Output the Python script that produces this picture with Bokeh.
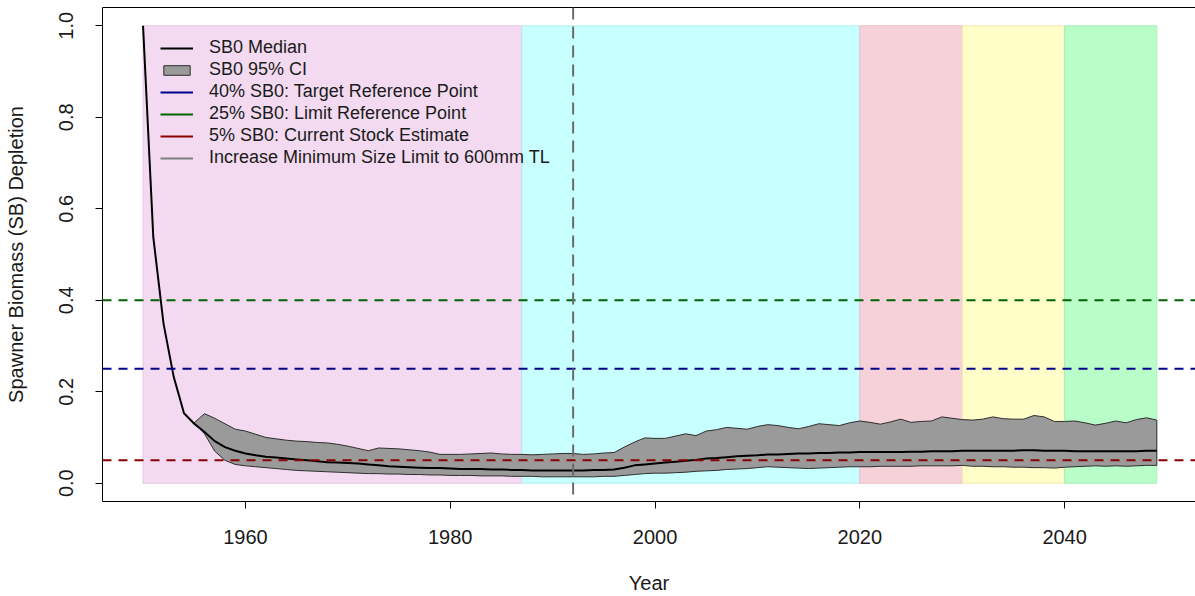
from bokeh.plotting import figure
from bokeh.models import (Range1d, Span, Legend, LegendItem, LinearAxis, FixedTicker,
                          CustomJSTickFormatter)
from bokeh.embed import file_html
from bokeh.resources import INLINE

# ---------------- data ----------------
years = list(range(1950, 2050))
median = [1.000, 0.538, 0.349, 0.232, 0.153, 0.130, 0.112, 0.092, 0.079, 0.071,
          0.065, 0.061, 0.058, 0.056, 0.054, 0.052, 0.050, 0.048, 0.046, 0.045,
          0.044, 0.043, 0.041, 0.039, 0.037, 0.036, 0.035, 0.034, 0.033, 0.033,
          0.032, 0.031, 0.031, 0.031, 0.030, 0.030, 0.029, 0.029, 0.028, 0.028,
          0.028, 0.028, 0.028, 0.028, 0.029, 0.029, 0.030, 0.034, 0.039, 0.041,
          0.043, 0.045, 0.047, 0.049, 0.051, 0.054, 0.055, 0.057, 0.059, 0.060,
          0.061, 0.063, 0.063, 0.064, 0.065, 0.065, 0.066, 0.066, 0.067, 0.067,
          0.068, 0.068, 0.068, 0.068, 0.068, 0.069, 0.069, 0.070, 0.070, 0.070,
          0.071, 0.071, 0.071, 0.071, 0.071, 0.071, 0.072, 0.072, 0.071, 0.071,
          0.071, 0.070, 0.070, 0.070, 0.070, 0.070, 0.070, 0.070, 0.071, 0.071]

ci_years = list(range(1955, 2050))
ci_upper = [0.132, 0.152, 0.142, 0.130, 0.118, 0.114, 0.107, 0.100, 0.097, 0.094,
            0.092, 0.091, 0.089, 0.088, 0.085, 0.081, 0.076, 0.071, 0.077, 0.076,
            0.075, 0.073, 0.071, 0.068, 0.063, 0.063, 0.063, 0.064, 0.065, 0.066,
            0.064, 0.063, 0.063, 0.062, 0.063, 0.064, 0.065, 0.065, 0.063, 0.064,
            0.066, 0.067, 0.079, 0.090, 0.099, 0.098, 0.098, 0.103, 0.108, 0.104,
            0.114, 0.117, 0.122, 0.120, 0.118, 0.124, 0.128, 0.126, 0.122, 0.119,
            0.124, 0.130, 0.128, 0.126, 0.132, 0.136, 0.133, 0.129, 0.134, 0.140,
            0.133, 0.135, 0.136, 0.145, 0.142, 0.139, 0.138, 0.140, 0.145, 0.141,
            0.140, 0.140, 0.148, 0.145, 0.135, 0.135, 0.136, 0.132, 0.127, 0.131,
            0.136, 0.132, 0.139, 0.143, 0.138]
ci_lower = [0.132, 0.108, 0.070, 0.050, 0.041, 0.038, 0.036, 0.034, 0.032, 0.030,
            0.028, 0.027, 0.026, 0.025, 0.024, 0.023, 0.022, 0.021, 0.021, 0.020,
            0.020, 0.019, 0.019, 0.018, 0.018, 0.017, 0.017, 0.017, 0.016, 0.016,
            0.016, 0.015, 0.015, 0.015, 0.014, 0.014, 0.014, 0.014, 0.014, 0.014,
            0.015, 0.015, 0.017, 0.019, 0.021, 0.022, 0.022, 0.023, 0.024, 0.026,
            0.027, 0.028, 0.030, 0.031, 0.032, 0.034, 0.036, 0.035, 0.034, 0.033,
            0.032, 0.033, 0.034, 0.035, 0.036, 0.036, 0.036, 0.037, 0.037, 0.037,
            0.037, 0.038, 0.038, 0.038, 0.038, 0.039, 0.037, 0.037, 0.036, 0.036,
            0.035, 0.035, 0.034, 0.034, 0.033, 0.035, 0.036, 0.037, 0.038, 0.037,
            0.038, 0.037, 0.038, 0.039, 0.039]

period_start = [1950, 1987, 2020, 2030, 2040]
period_end = [1987, 2020, 2030, 2040, 2049]
period_colors = ["#F3DAF1", "#C8FFFF", "#F7D1DA", "#FFFDC8", "#B9FDC8"]
period_borders = ["#E8C6E6", "#B4EEF0", "#EABFC9", "#F5E6B0", "#A9EEBA"]

regulation_year = 1992
ref_levels = [0.40, 0.25, 0.05]
ref_colors = ["#006400", "#00008B", "#8B0000"]

legend_labels = ["SB0 Median", "SB0 95% CI", "40% SB0: Target Reference Point",
                 "25% SB0: Limit Reference Point", "5% SB0: Current Stock Estimate",
                 "Increase Minimum Size Limit to 600mm TL"]
legend_line_colors = ["#00008B", "#006400", "#8B0000", "#7F7F7F"]

x_ticks = [1960, 1980, 2000, 2020, 2040]
y_ticks = [0.0, 0.2, 0.4, 0.6, 0.8, 1.0]

FONT = "Liberation Sans"
NAN = float("nan")

# ---------------- figure ----------------
p = figure(width=1195, height=596, output_backend="svg", toolbar_location=None,
           x_range=Range1d(1946.04, 2052.78), y_range=Range1d(-0.04, 1.04),
           min_border_left=102, min_border_right=0, min_border_top=7,
           min_border_bottom=95, x_axis_location=None, y_axis_location=None)
p.outline_line_color = None
p.xgrid.visible = False
p.ygrid.visible = False
p.background_fill_color = "white"

# shaded periods
p.quad(left=period_start, right=period_end, bottom=0, top=1,
       fill_color=period_colors, line_color=period_borders, line_width=1)

# CI polygon
px = ci_years + ci_years[::-1]
py = ci_upper + ci_lower[::-1]
ci_r = p.patch(px, py, fill_color="#9A9A9A", line_color="#2E2E2E", line_width=1)

# median
med_r = p.line(years, median, line_color="black", line_width=2)

# reference lines
for lev, col in zip(ref_levels, ref_colors):
    p.add_layout(Span(location=lev, dimension="width", line_color=col,
                      line_width=2, line_dash="9 7"))
p.add_layout(Span(location=regulation_year, dimension="height", line_color="#6B6B6B",
                  line_width=2, line_dash="12 7"))

# legend-only renderers (solid keys, nothing drawn in the plot)
dummy = []
for c in legend_line_colors:
    dummy.append(p.line(x=[NAN, NAN], y=[NAN, NAN], line_color=c, line_width=2))

items = [LegendItem(label=legend_labels[0], renderers=[med_r]),
         LegendItem(label=legend_labels[1], renderers=[ci_r])]
for lab, r in zip(legend_labels[2:], dummy):
    items.append(LegendItem(label=lab, renderers=[r]))

legend = Legend(items=items, location=(58, 333), border_line_color=None,
                background_fill_alpha=0, padding=0, margin=0, spacing=1,
                glyph_width=33, glyph_height=12, label_height=21,
                label_standoff=16, label_text_font=FONT,
                label_text_font_size="18px", label_text_color="#1a1a1a",
                label_text_baseline="middle")
p.add_layout(legend)

# axes
yaxis = LinearAxis(ticker=FixedTicker(ticks=y_ticks), axis_label="Spawner Biomass (SB) Depletion")
yaxis.formatter = CustomJSTickFormatter(code="return tick.toFixed(1);")
yaxis.major_label_orientation = "vertical"
xaxis = LinearAxis(ticker=FixedTicker(ticks=x_ticks), axis_label="Year")
for ax in (xaxis, yaxis):
    ax.major_tick_out = 7
    ax.major_tick_in = 0
    ax.minor_tick_out = 0
    ax.minor_tick_in = 0
    ax.axis_line_color = "black"
    ax.major_tick_line_color = "black"
    ax.major_label_text_font = FONT
    ax.major_label_text_font_size = "20px"
    ax.major_label_text_color = "#1a1a1a"
    ax.axis_label_text_font = FONT
    ax.axis_label_text_font_size = "20px"
    ax.axis_label_text_font_style = "normal"
    ax.axis_label_text_color = "#1a1a1a"
yaxis.major_label_standoff = 22
yaxis.axis_label_standoff = 30
xaxis.major_label_standoff = 21
xaxis.axis_label_standoff = 25
p.add_layout(yaxis, "left")
p.add_layout(xaxis, "below")

top = LinearAxis(ticker=FixedTicker(ticks=[]))
top.major_tick_out = 0
top.major_tick_in = 0
top.minor_tick_out = 0
top.minor_tick_in = 0
top.major_label_standoff = 0
top.major_label_text_font_size = "0px"
top.axis_line_color = "black"
p.add_layout(top, "above")

open("out.html", "w").write(file_html(p, INLINE))
